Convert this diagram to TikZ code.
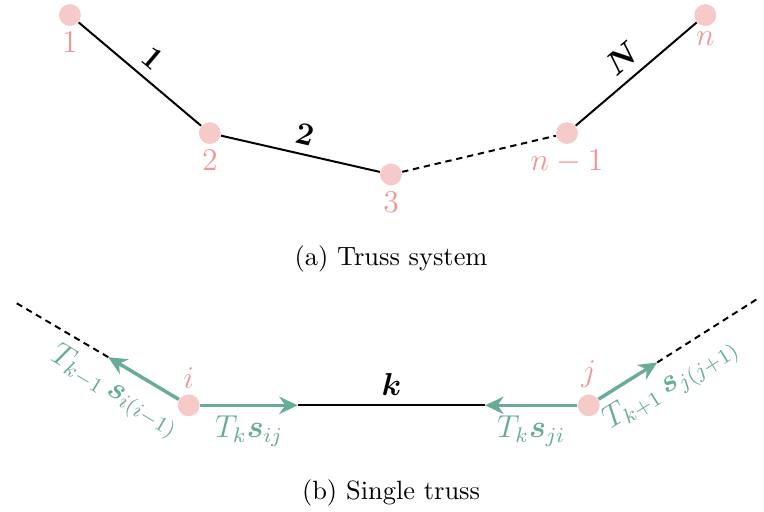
\documentclass[tikz,border=0pt]{standalone}
\usepackage{amsmath,amssymb}
\usepackage{bm}
\usetikzlibrary{arrows.meta}

\definecolor{jointpink}{RGB}{247,202,202}
\definecolor{labelpink}{RGB}{240,150,150}
\definecolor{forceteal}{RGB}{104,171,152}

\tikzset{
  joint/.style={circle,fill=jointpink,inner sep=0pt,minimum size=0.29cm},
  jointlabel/.style={text=labelpink,font=\large,inner sep=2pt},
  bar/.style={black,line width=0.75pt},
  gap/.style={dash pattern=on 2.4pt off 1.8pt},
  barlabel/.style={font=\large},
  force/.style={forceteal,line width=1.3pt,-{Stealth[length=7pt,width=6.5pt]}},
  forcelabel/.style={text=forceteal,font=\large}
}

\begin{document}
\begin{tikzpicture}[x={(1cm,0cm)}, y={(0cm,1cm)}, baseline=0cm]
  \useasboundingbox (0,0) rectangle (10.16,6.80);

  % Truss system
  \node[joint,label={[jointlabel]below:$1$}] (J1) at (0.93,6.60) {};
  \node[joint,label={[jointlabel]below:$2$}] (J2) at (2.79,5.03) {};
  \node[joint,label={[jointlabel]below:$3$}] (J3) at (5.20,4.48) {};
  \node[joint,label={[jointlabel]below:$n-1$}] (Jn1) at (7.54,5.03) {};
  \node[joint,label={[jointlabel]below:$n$}] (Jn) at (9.38,6.60) {};

  \draw[bar] (J1) -- (J2) node[midway,above,sloped,barlabel] {$\boldsymbol{1}$};
  \draw[bar] (J2) -- (J3) node[midway,above,sloped,barlabel] {$\boldsymbol{2}$};
  \draw[bar,gap] (J3) -- (Jn1);
  \draw[bar] (Jn1) -- (Jn) node[midway,above,sloped,barlabel] {$\boldsymbol{N}$};

  \node (CaptionA) at (5.20,3.36) {(a) Truss system};

  % Single truss
  \node[joint,label={[jointlabel]above:$i$}] (Ji) at (2.51,1.41) {};
  \node[joint,label={[jointlabel]above:$j$}] (Jj) at (7.83,1.41) {};

  \coordinate (TipL) at (1.44,2.05);
  \coordinate (EndL) at (0.20,2.78);
  \coordinate (TipR) at (8.74,1.98);
  \coordinate (EndR) at (10.11,2.85);
  \coordinate (TipI) at (3.96,1.41);
  \coordinate (TipJ) at (6.45,1.41);

  \draw[bar,gap] (TipL) -- (EndL);
  \draw[bar,gap] (TipR) -- (EndR);
  \draw[bar] (TipI) -- (TipJ) node[midway,above,barlabel] {$\boldsymbol{k}$};

  \draw[force] (Ji) -- (TipL) node[pos=0.72,below,sloped,forcelabel] {$T_{k-1}\,\boldsymbol{s}_{i(i-1)}$};
  \draw[force] (Ji) -- (TipI) node[midway,below,forcelabel] {$T_k\boldsymbol{s}_{ij}$};
  \draw[force] (Jj) -- (TipJ) node[midway,below,forcelabel] {$T_k\boldsymbol{s}_{ji}$};
  \draw[force] (Jj) -- (TipR) node[pos=1.0,below,sloped,forcelabel] {$T_{k+1}\,\boldsymbol{s}_{j(j+1)}$};

  \node (CaptionB) at (5.20,0.25) {(b) Single truss};
\end{tikzpicture}
\end{document}
